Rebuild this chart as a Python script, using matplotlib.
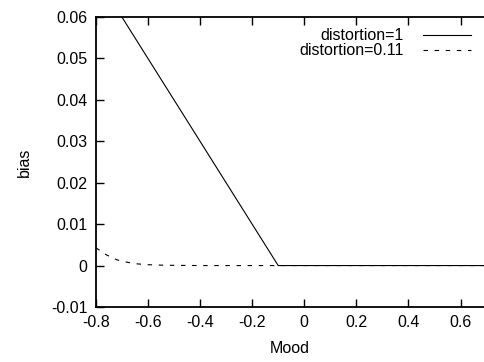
import matplotlib
matplotlib.use("Agg")
import matplotlib.pyplot as plt

plt.rcParams['font.family'] = ['Liberation Sans', 'DejaVu Sans']

# distortion = 1 : linear ramp, flat after -0.1
mood_1 = [-0.8, -0.1, 0.7]
bias_1 = [0.07, 0.0, 0.0]

# distortion = 0.11 : small decaying bump near -0.8
mood_2 = [-0.8, -0.76, -0.72, -0.68, -0.64, -0.6, -0.55, -0.5, -0.4, 0.0, 0.7]
bias_2 = [0.0043, 0.0026, 0.0014, 0.0008, 0.0004, 0.0002, 0.0001, 0.00005, 0.0, 0.0, 0.0]

xticks = [-0.8, -0.6, -0.4, -0.2, 0, 0.2, 0.4, 0.6]
yticks = [-0.01, 0, 0.01, 0.02, 0.03, 0.04, 0.05, 0.06]

fig = plt.figure(figsize=(4.84, 3.62), dpi=100)
ax = fig.add_axes([0.198, 0.152, 0.802, 0.801])

ax.plot(mood_1, bias_1, color='black', lw=0.8, label='distortion=1')
ax.plot(mood_2, bias_2, color='black', lw=0.8, ls=(0, (4, 6)), label='distortion=0.11')

ax.set_xlim(-0.8, 0.69)
ax.set_ylim(-0.01, 0.06)
ax.set_xticks(xticks)
ax.set_xticklabels(['-0.8', '-0.6', '-0.4', '-0.2', '0', '0.2', '0.4', '0.6'])
ax.set_yticks(yticks)
ax.set_yticklabels(['-0.01', '0', '0.01', '0.02', '0.03', '0.04', '0.05', '0.06'])
ax.tick_params(direction='in', length=6, width=1, top=True, labelsize=11.5, pad=6)
for s in ['left', 'bottom', 'top']:
    ax.spines[s].set_linewidth(1.3)
ax.spines['right'].set_visible(False)

ax.set_xlabel('Mood', fontsize=11.5, labelpad=8)
ax.set_ylabel('bias', fontsize=11.5, labelpad=14)

ax.legend(loc='upper right', frameon=False, markerfirst=False, fontsize=11.5,
          handlelength=3.0, handletextpad=1.2, labelspacing=0.0,
          borderaxespad=0.3, bbox_to_anchor=(0.995, 1.0))

fig.savefig('out.png', dpi=100)
